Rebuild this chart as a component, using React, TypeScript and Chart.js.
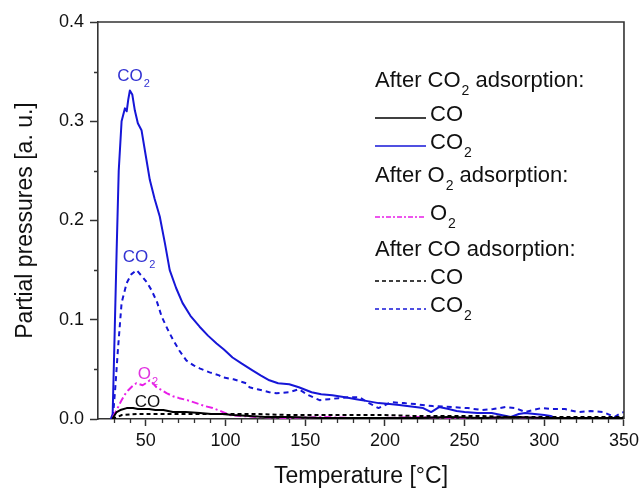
import React, { useEffect, useRef } from "react";
import { Chart, registerables } from "chart.js";

Chart.register(...registerables);

// ---- data ----
const xTicks = [50, 100, 150, 200, 250, 300, 350];
const yTicks = [0, 0.1, 0.2, 0.3, 0.4];

// After CO2 adsorption: CO2 (solid blue)
const co2AfterCO2T = [28, 29.2, 30.5, 31.7, 33, 34.8, 36.9, 38, 39, 40, 41.5, 43.1, 45, 47.3, 50, 52.5, 55.5, 58.75, 62, 65, 69, 73, 78, 83.75, 89, 94.4, 99, 104.4, 110, 116.9, 122, 127.5, 133, 140, 146, 154, 160, 167, 175, 182, 189, 196, 203, 209, 214, 219, 224, 229, 234, 240, 245, 250, 258, 267, 273, 279, 284, 288, 294, 300, 304, 307, 315, 325, 335, 345, 350];
const co2AfterCO2V = [0, 0.005, 0.09, 0.17, 0.25, 0.3, 0.313, 0.31, 0.322, 0.331, 0.327, 0.311, 0.298, 0.291, 0.265, 0.241, 0.222, 0.204, 0.177, 0.15, 0.132, 0.117, 0.104, 0.093, 0.084, 0.076, 0.07, 0.062, 0.056, 0.049, 0.044, 0.039, 0.036, 0.035, 0.032, 0.027, 0.025, 0.024, 0.022, 0.02, 0.018, 0.016, 0.015, 0.014, 0.013, 0.012, 0.011, 0.007, 0.012, 0.01, 0.008, 0.007, 0.006, 0.006, 0.004, 0.002, 0.005, 0.006, 0.005, 0.004, 0.003, 0.001, 0.001, 0, 0.001, 0, 0.001];

// After CO2 adsorption: CO (solid black)
const coAfterCO2T = [29, 30.5, 31.7, 34, 38, 42, 45, 48, 52, 56, 61, 67, 75, 84, 91, 98, 105, 115, 125, 140, 160, 180, 200, 220, 240, 260, 280, 300, 320, 340, 350];
const coAfterCO2V = [0, 0.004, 0.007, 0.009, 0.011, 0.011, 0.01, 0.01, 0.01, 0.009, 0.009, 0.007, 0.007, 0.006, 0.005, 0.005, 0.004, 0.003, 0.002, 0.002, 0.001, 0.001, 0.001, 0.001, 0.002, 0.001, 0.002, 0.001, 0.001, 0.001, 0.001];

// After O2 adsorption: O2 (magenta dash-dot)
const o2AfterO2T = [29.4, 32, 34.8, 37, 39, 41.5, 44, 46, 48, 50, 52.5, 54.5, 56.7, 60, 63, 67, 71, 76, 81.7, 87, 92, 97, 102.5, 110, 120, 140, 160, 180, 200, 220, 240, 260, 280, 300, 320, 340, 350];
const o2AfterO2V = [0.002, 0.01, 0.019, 0.025, 0.029, 0.033, 0.036, 0.035, 0.034, 0.036, 0.039, 0.036, 0.032, 0.029, 0.026, 0.023, 0.021, 0.019, 0.016, 0.013, 0.011, 0.008, 0.004, 0.003, 0.002, 0.001, 0.002, 0.001, 0.001, 0.002, 0.001, 0.001, 0.002, 0.001, 0.001, 0.001, 0.001];

// After CO adsorption: CO (dashed black)
const coAfterCOT = [29, 35, 45, 60, 80, 100, 120, 140, 160, 180, 200, 220, 240, 260, 280, 300, 320, 340, 350];
const coAfterCOV = [0, 0.004, 0.005, 0.005, 0.005, 0.005, 0.005, 0.004, 0.004, 0.004, 0.004, 0.003, 0.003, 0.003, 0.002, 0.002, 0.002, 0.002, 0.002];

// After CO adsorption: CO2 (dashed blue)
const co2AfterCOT = [29.4, 31, 32.5, 34.8, 38, 41, 44.2, 48, 50.5, 53.5, 57, 60, 63.5, 67, 71, 75.4, 80, 83.75, 90, 96, 98, 105, 113, 115, 120, 127.5, 132, 140, 146, 152, 159, 165, 171, 178, 184, 190, 196, 204, 212, 219, 230, 242, 252, 261, 268, 275.6, 282, 288, 298, 305, 313, 321, 329, 337, 344, 348, 350];
const co2AfterCOV = [0.002, 0.035, 0.07, 0.117, 0.137, 0.146, 0.15, 0.143, 0.138, 0.13, 0.118, 0.103, 0.091, 0.08, 0.069, 0.059, 0.054, 0.051, 0.047, 0.044, 0.042, 0.04, 0.036, 0.032, 0.03, 0.027, 0.026, 0.027, 0.03, 0.024, 0.019, 0.02, 0.021, 0.022, 0.022, 0.016, 0.011, 0.017, 0.016, 0.015, 0.013, 0.012, 0.011, 0.009, 0.01, 0.012, 0.011, 0.007, 0.011, 0.01, 0.01, 0.007, 0.008, 0.007, 0.002, 0.006, 0.007];

const BLUE = "rgb(22,22,215)";
const MAGENTA = "rgb(232,30,232)";
const BLACK = "#000000";
const AXIS = "#333333";
const FONT = "'Liberation Sans', Arial, sans-serif";

type Part = [string, boolean?];

function drawRich(ctx: CanvasRenderingContext2D, parts: Part[], x: number, y: number, size: number, color: string, align: "left" | "center" = "left") {
  ctx.save();
  ctx.fillStyle = color;
  ctx.textBaseline = "middle";
  ctx.textAlign = "left";
  const subSize = Math.round(size * 0.62);
  let total = 0;
  for (const [t, sub] of parts) {
    ctx.font = `${sub ? subSize : size}px ${FONT}`;
    total += ctx.measureText(t).width;
  }
  let cx = align === "center" ? x - total / 2 : x;
  for (const [t, sub] of parts) {
    ctx.font = `${sub ? subSize : size}px ${FONT}`;
    ctx.fillText(t, cx + (sub ? 1 : 0), sub ? y + size * 0.45 : y);
    cx += ctx.measureText(t).width + (sub ? 1 : 0);
  }
  ctx.restore();
}

const legendRows: { y: number; header?: Part[]; label?: Part[]; color?: string; dash?: number[] }[] = [
  { y: 81, header: [["After CO"], ["2", true], [" adsorption:"]] },
  { y: 115, label: [["CO"]], color: BLACK, dash: [] },
  { y: 143, label: [["CO"], ["2", true]], color: BLUE, dash: [] },
  { y: 176, header: [["After O"], ["2", true], [" adsorption:"]] },
  { y: 214, label: [["O"], ["2", true]], color: MAGENTA, dash: [5, 2, 2, 2] },
  { y: 250, header: [["After CO adsorption:"]] },
  { y: 278, label: [["CO"]], color: BLACK, dash: [4, 3] },
  { y: 306, label: [["CO"], ["2", true]], color: BLUE, dash: [4, 3] },
];

const annotations: { t: number; v: number; parts: Part[]; color: string }[] = [
  { t: 42, v: 0.345, parts: [["CO"], ["2", true]], color: "rgb(50,50,210)" },
  { t: 45.5, v: 0.163, parts: [["CO"], ["2", true]], color: "rgb(50,50,210)" },
  { t: 51, v: 0.045, parts: [["O"], ["2", true]], color: "rgb(225,50,225)" },
  { t: 51, v: 0.017, parts: [["CO"]], color: "#111111" },
];

const decorPlugin = {
  id: "decor",
  afterDraw(chart: any) {
    const { ctx, chartArea } = chart;
    const xs = chart.scales.x;
    const ys = chart.scales.y;
    ctx.save();
    // top and right frame
    ctx.strokeStyle = AXIS;
    ctx.lineWidth = 1.6;
    ctx.beginPath();
    ctx.moveTo(chartArea.left, chartArea.top);
    ctx.lineTo(chartArea.right, chartArea.top);
    ctx.lineTo(chartArea.right, chartArea.bottom);
    ctx.stroke();
    // minor ticks
    ctx.lineWidth = 1.3;
    ctx.beginPath();
    for (let t = 30; t < 350; t += 10) {
      if (t % 50 === 0) continue;
      const px = Math.round(xs.getPixelForValue(t)) + 0.5;
      ctx.moveTo(px, chartArea.bottom);
      ctx.lineTo(px, chartArea.bottom + 4);
    }
    for (let v = 0.05; v < 0.4; v += 0.1) {
      const py = Math.round(ys.getPixelForValue(v)) + 0.5;
      ctx.moveTo(chartArea.left, py);
      ctx.lineTo(chartArea.left - 4, py);
    }
    ctx.stroke();
    ctx.restore();

    // annotations
    for (const a of annotations) {
      drawRich(ctx, a.parts, xs.getPixelForValue(a.t), ys.getPixelForValue(a.v), 17, a.color, "center");
    }

    // legend
    const lx0 = 375;
    const lx1 = 426;
    for (const r of legendRows) {
      if (r.header) {
        drawRich(ctx, r.header, lx0, r.y, 22, "#111111");
      } else if (r.label) {
        ctx.save();
        ctx.strokeStyle = r.color;
        ctx.lineWidth = 1.6;
        ctx.setLineDash(r.dash || []);
        ctx.beginPath();
        ctx.moveTo(lx0, r.y + 3);
        ctx.lineTo(lx1, r.y + 3);
        ctx.stroke();
        ctx.restore();
        drawRich(ctx, r.label, lx1 + 4, r.y, 22, "#111111");
      }
    }
  },
};

function pts(t: number[], v: number[]) {
  return t.map((x, i) => ({ x, y: v[i] }));
}

export default function App() {
  const ref = useRef<HTMLCanvasElement>(null);
  useEffect(() => {
    document.body.style.margin = "0";
    const canvas = ref.current!;
    const chart = new Chart(canvas, {
      type: "line",
      data: {
        datasets: [
          { label: "CO (after CO2)", data: pts(coAfterCO2T, coAfterCO2V), borderColor: BLACK, borderWidth: 2, pointRadius: 0, borderDash: [] },
          { label: "CO (after CO)", data: pts(coAfterCOT, coAfterCOV), borderColor: BLACK, borderWidth: 2, pointRadius: 0, borderDash: [4, 3] },
          { label: "O2 (after O2)", data: pts(o2AfterO2T, o2AfterO2V), borderColor: MAGENTA, borderWidth: 2, pointRadius: 0, borderDash: [7, 3, 2, 3] },
          { label: "CO2 (after CO)", data: pts(co2AfterCOT, co2AfterCOV), borderColor: BLUE, borderWidth: 2, pointRadius: 0, borderDash: [5, 4] },
          { label: "CO2 (after CO2)", data: pts(co2AfterCO2T, co2AfterCO2V), borderColor: BLUE, borderWidth: 2, pointRadius: 0, borderDash: [] },
        ],
      },
      options: {
        animation: false,
        responsive: false,
        layout: { padding: { top: 22, right: 18, left: 0, bottom: 0 } },
        plugins: { legend: { display: false }, tooltip: { enabled: false } },
        elements: { line: { tension: 0, borderJoinStyle: "round" } },
        scales: {
          x: {
            type: "linear",
            min: 20,
            max: 350,
            afterBuildTicks: (s: any) => { s.ticks = xTicks.map((v) => ({ value: v })); },
            afterFit: (s: any) => { s.height = 69; },
            ticks: { color: "#111111", font: { family: FONT, size: 18 }, padding: 4, maxRotation: 0, autoSkip: false, callback: (v: any) => String(v) },
            grid: { display: true, drawOnChartArea: false, drawTicks: true, tickLength: 7, tickColor: AXIS, tickWidth: 1.5 },
            border: { display: true, color: AXIS, width: 1.6 },
            title: { display: true, text: "Temperature [°C]", color: "#111111", font: { family: FONT, size: 23, lineHeight: 1 }, padding: { top: 0, bottom: 0 } },
          },
          y: {
            type: "linear",
            min: 0,
            max: 0.4,
            afterBuildTicks: (s: any) => { s.ticks = yTicks.map((v) => ({ value: v })); },
            afterFit: (s: any) => { s.width = 98; },
            ticks: { color: "#111111", font: { family: FONT, size: 18 }, padding: 6, autoSkip: false, callback: (v: any) => Number(v).toFixed(1) },
            grid: { display: true, drawOnChartArea: false, drawTicks: true, tickLength: 8, tickColor: AXIS, tickWidth: 1.5 },
            border: { display: true, color: AXIS, width: 1.6 },
            title: { display: true, text: "Partial pressures [a. u.]", color: "#111111", font: { family: FONT, size: 23, lineHeight: 1 }, padding: { top: 14, bottom: 0 } },
          },
        },
      },
      plugins: [decorPlugin],
    } as any);
    return () => chart.destroy();
  }, []);
  return (
    <div style={{ position: "absolute", left: 0, top: 0, width: 643, height: 488 }}>
      <canvas ref={ref} width={643} height={488} style={{ width: 643, height: 488, display: "block" }} />
    </div>
  );
}
